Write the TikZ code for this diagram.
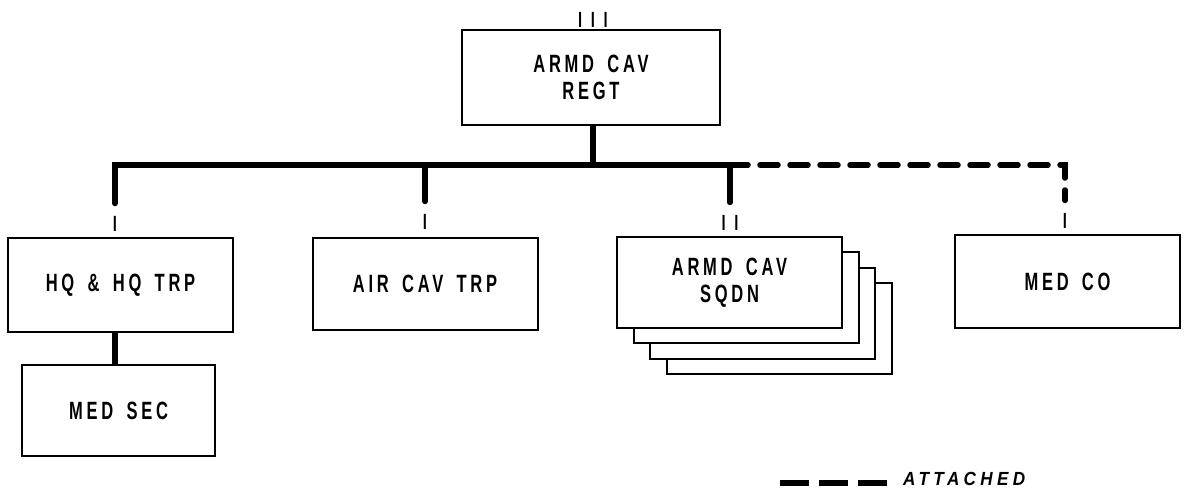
\documentclass[tikz,border=0pt]{standalone}
\usepackage{fontspec}
\usetikzlibrary{calc}
\newfontfamily\orgfont{Liberation Sans}[FakeStretch=0.66,LetterSpace=15,WordSpace=1.6]
\newfontfamily\keyfont{Liberation Sans}[FakeStretch=0.9,LetterSpace=23]
\newfontfamily\echelonfont{Liberation Sans}[LetterSpace=30]

\tikzset{
  unitbox/.style={draw, line width=2pt, fill=white, minimum width=225pt,
    minimum height=92pt, inner sep=0pt, align=center,
    font={\orgfont\bfseries\fontsize{25}{27}\selectfont}},
  echelon/.style={anchor=south, inner sep=0pt,
    font={\echelonfont\fontsize{22}{22}\selectfont}},
  bar/.style={line width=5.5pt, line cap=round, line join=miter},
  attach/.style={dash pattern=on 18pt off 12pt},
}

\begin{document}
\begin{tikzpicture}[x=1pt, y=-1pt]
  \useasboundingbox (0,0) rectangle (1186,490);

  % Regiment
  \node[unitbox, minimum width=258pt, minimum height=95pt] (regt) at (591,77.5) {ARMD CAV\\REGT};
  \node[echelon] (regtsym) at (593,28) {III};
  \coordinate (bus) at (593,165);

  % Troops and squadrons
  \node[unitbox, minimum height=94pt] (hq) at (120.5,285) {HQ \& HQ TRP};
  \node[echelon] (hqsym) at (115,232) {I};
  \node[unitbox, minimum width=193pt, minimum height=91pt] (medsec) at (118.5,410.5) {MED SEC};

  \node[unitbox] (air) at (425,284) {AIR CAV TRP};
  \node[echelon] (airsym) at (425,230) {I};

  \foreach \k in {3,2,1}
    \node[unitbox, minimum height=91pt] (sqdn\k) at (729.5+16.5*\k, 282.5+15.3*\k) {};
  \node[unitbox, minimum height=91pt] (sqdn) at (729.5,282.5) {ARMD CAV\\SQDN};
  \node[echelon] (sqdnsym) at (730,231) {II};

  \node[unitbox, minimum height=93pt] (medco) at (1067.5,281.5) {MED CO};
  \node[echelon] (medcosym) at (1065,229) {I};

  % Command lines
  \draw[bar, line cap=butt] (bus |- regt.south) -- (bus);
  \draw[bar, shorten <=13pt, shorten >=13pt] (hqsym.north) -- (hqsym.north |- bus)
    -- (sqdnsym.north |- bus) -- (sqdnsym.north);
  \draw[bar, shorten <=13pt] (airsym.north) -- (airsym.north |- bus);
  \draw[bar, line cap=butt] (hqsym.south |- hq.south) -- (hqsym.south |- medsec.north);

  % Attached
  \draw[bar, attach, shorten >=13pt] (sqdnsym.north |- bus) -- (medcosym.north |- bus)
    -- (medcosym.north);

  % Legend
  \coordinate (keyl) at (780,483);
  \coordinate (keyr) at (887,483);
  \draw[bar, line cap=butt, dash pattern=on 29pt off 10pt] (keyl) -- (keyr);
  \node[anchor=base west, inner sep=0pt, font={\keyfont\bfseries\itshape\fontsize{19}{19}\selectfont}]
    (key) at (903,485) {ATTACHED};

\end{tikzpicture}
\end{document}
